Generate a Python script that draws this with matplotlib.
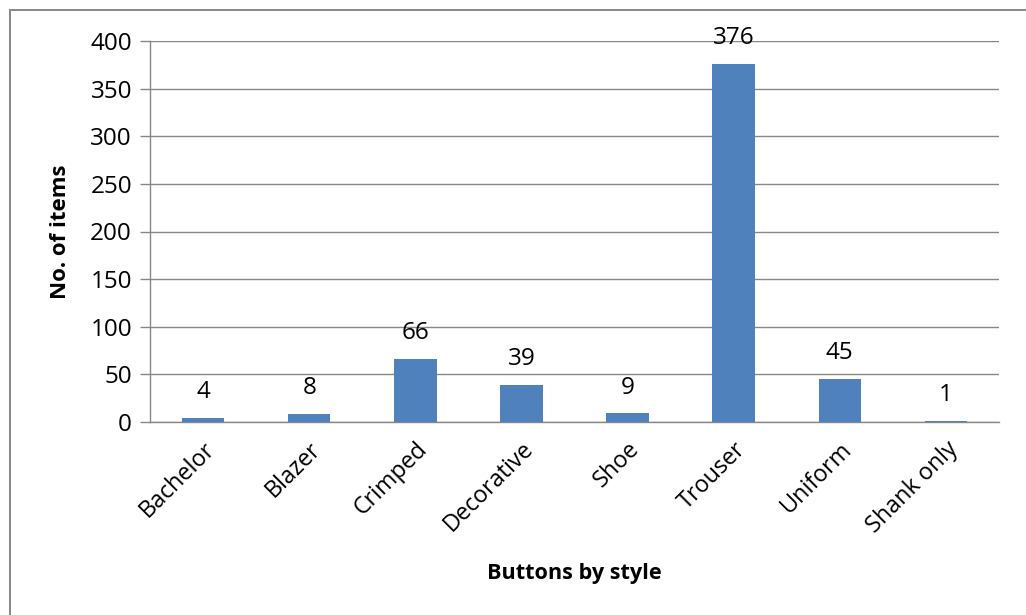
import matplotlib.pyplot as plt
from matplotlib.patches import Rectangle

# button counts per style
styles = ["Bachelor", "Blazer", "Crimped", "Decorative", "Shoe", "Trouser", "Uniform", "Shank only"]
counts = [4, 8, 66, 39, 9, 376, 45, 1]
y_ticks = [0, 50, 100, 150, 200, 250, 300, 350, 400]

BAR = "#4f81bd"
GRID = "#878787"

plt.rcParams["font.family"] = ["Open Sans", "DejaVu Sans"]

fig = plt.figure(figsize=(10.26, 6.15), dpi=100)
ax = fig.add_axes([150 / 1026, 1 - 422 / 615, (999 - 150) / 1026, (422 - 41) / 615])

# outer chart border (runs off the right and bottom edges)
fig.patches.append(Rectangle((10 / 1026, -0.05), 1.1, 1 - 10 / 615 + 0.05,
                             transform=fig.transFigure, fill=False,
                             edgecolor=GRID, linewidth=1.4))

x = range(len(styles))
bars = ax.bar(x, counts, width=0.4, color=BAR, zorder=3)

for rect, v in zip(bars, counts):
    ax.annotate(str(v), (rect.get_x() + rect.get_width() / 2, v),
                xytext=(0, 10), textcoords="offset points",
                ha="center", va="bottom", fontsize=17.5, color="black")

ax.set_xlim(-0.5, len(styles) - 0.5)
ax.set_ylim(0, 400)
ax.set_yticks(y_ticks)
ax.tick_params(axis="y", labelsize=17.5, length=7, width=1.0, color=GRID, pad=6)
ax.set_xticks(list(x))
ax.set_xticklabels(styles, rotation=45, ha="right", va="top",
                   rotation_mode="anchor", fontsize=16.8)
ax.tick_params(axis="x", length=0, pad=11)

ax.grid(axis="y", color=GRID, linewidth=1.0, zorder=0)
for side in ["top", "right"]:
    ax.spines[side].set_visible(False)
ax.spines["left"].set_color(GRID)
ax.spines["bottom"].set_color(GRID)
ax.spines["left"].set_linewidth(1.0)
ax.spines["bottom"].set_linewidth(1.0)

fig.text(574 / 1026, 1 - 573 / 615, "Buttons by style", ha="center", va="center",
         fontsize=15.6, fontweight="bold")
fig.text(60 / 1026, 1 - 232 / 615, "No. of items", ha="center", va="center",
         rotation=90, fontsize=16, fontweight="bold")

fig.savefig("out.png", dpi=100)
